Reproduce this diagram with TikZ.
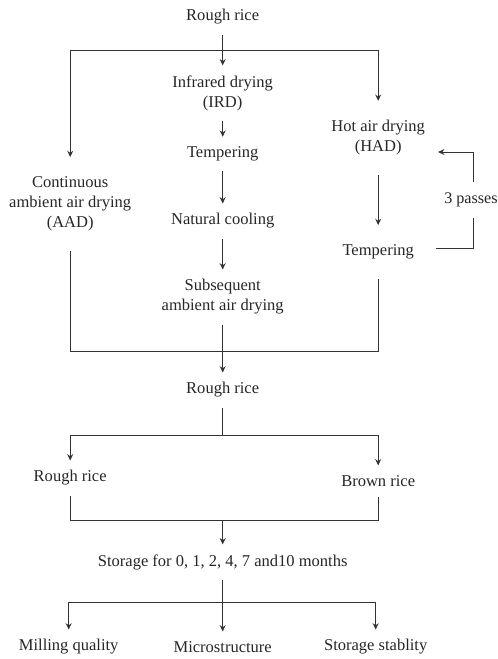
\documentclass[tikz,border=0pt]{standalone}
\usepackage{fontspec}
\setmainfont{Liberation Serif}
\usepackage{tikz}
\usetikzlibrary{arrows.meta}
\tikzstyle{box} = [align=center, inner xsep=3pt, inner ysep=5.5pt, text=black!85, font=\fontsize{9.4}{11.4}\selectfont]
\tikzstyle{sidebox} = [box, inner ysep=11pt]
\tikzstyle{line} = [draw=black!80, line width=0.55pt]
\tikzstyle{arrow} = [line, ->, >={Stealth[length=3.6pt, width=3.4pt, inset=1.2pt]}]

\begin{document}
\begin{tikzpicture}[node distance=1.2cm]
            \useasboundingbox (-4.454,0.34) rectangle (5.506,-12.84);

            \node(rice0) [box] {Rough rice};
            \node(ird) [box, below of=rice0, yshift=-0.32cm] {Infrared drying\\(IRD)};
            \node(temp1) [box, below of=ird, yshift=-0.02cm] {Tempering};
            \node(cool) [box, below of=temp1, yshift=-0.14cm] {Natural cooling};
            \node(subseq) [box, below of=cool, yshift=-0.32cm] {Subsequent\\ambient air drying};
            \node(aad) [sidebox, left of=temp1, xshift=-1.85cm, yshift=-1.0cm] {Continuous\\ambient air drying\\(AAD)};
            \node(had) [sidebox, right of=ird, xshift=1.91cm, yshift=-0.9cm] {Hot air drying\\(HAD)};
            \node(temp2) [sidebox, below of=had, yshift=-1.08cm] {Tempering};

            \node(rice1) [box, below of=subseq, yshift=-0.66cm] {Rough rice};
            \node(rough) [box, below of=rice1, xshift=-3.05cm, yshift=-0.56cm] {Rough rice};
            \node(brown) [box, below of=rice1, xshift=3.11cm, yshift=-0.62cm] {Brown rice};
            \node(storage) [box, below of=rice1, yshift=-2.24cm] {Storage for 0, 1, 2, 4, 7 and10 months};
            \node(micro) [box, below of=storage, yshift=-0.5cm] {Microstructure};
            \node(mill) [box, left of=micro, xshift=-1.88cm] {Milling quality};
            \node(stab) [box, right of=micro, xshift=1.86cm] {Storage stablity};

            \coordinate (split1) at (0,-0.66);
            \coordinate (join1) at (0,-6.69);
            \coordinate (split2) at (0,-8.36);
            \coordinate (join2) at (0,-10.06);
            \coordinate (split3) at (0,-11.71);

            % drying treatments
            \draw[arrow] (rice0) -- (ird);
            \draw[arrow] (split1) -| (aad);
            \draw[arrow] (split1) -| (had);
            \draw[arrow] (ird) -- (temp1);
            \draw[arrow] (temp1) -- (cool);
            \draw[arrow] (cool) -- (subseq);
            \draw[arrow] (had) -- (temp2);
            \draw[arrow] ([xshift=0.33cm, yshift=0.08cm]temp2.east) -- ++(0.76,0)
                |- node[pos=0.25, xshift=-0.06cm, fill=white, text=black!85, inner xsep=1pt, inner ysep=6pt, font=\fontsize{9.2}{11.4}\selectfont] {3 passes}
                ([xshift=0.15cm, yshift=-0.28cm]had.east);

            \draw[line] (aad) |- (join1);
            \draw[line] (temp2) |- (join1);
            \draw[arrow] (subseq) -- (rice1);

            % storage
            \draw[line] (rice1) -- (split2);
            \draw[arrow] (split2) -| (rough);
            \draw[arrow] (split2) -| (brown);
            \draw[line] (rough) |- (join2);
            \draw[line] (brown) |- (join2);
            \draw[arrow] (join2) -- (storage);

            \draw[arrow] (storage) -- (micro);
            \draw[arrow] (split3) -| (mill);
            \draw[arrow] (split3) -| (stab);
        \end{tikzpicture}
\end{document}
